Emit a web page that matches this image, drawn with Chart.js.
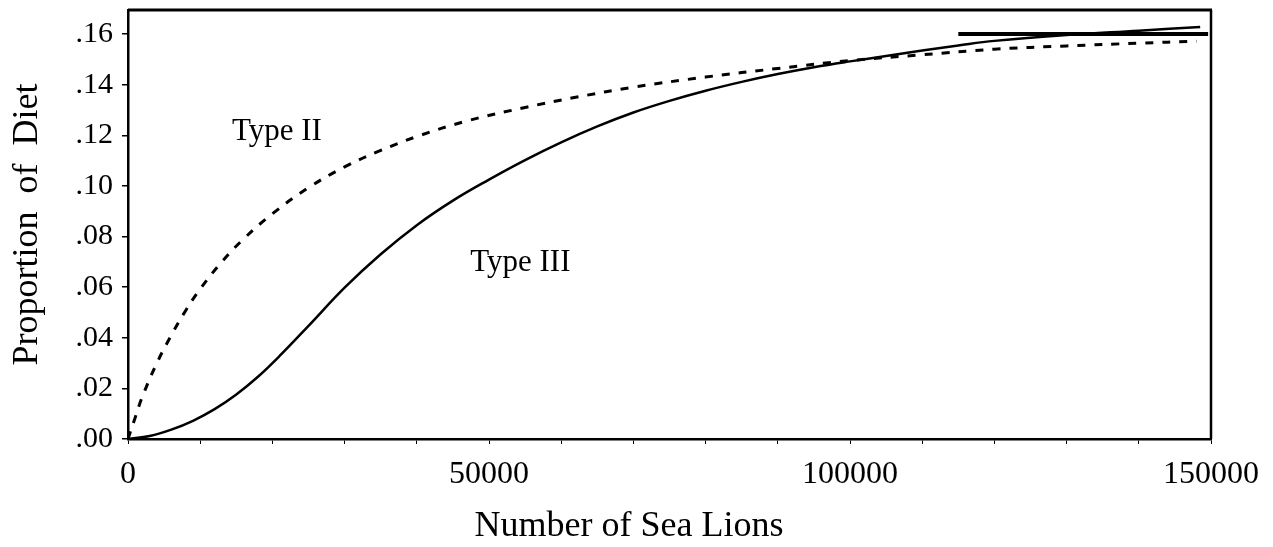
<!DOCTYPE html>
<html lang="en">
<head>
<meta charset="UTF-8" />
<title>Proportion of Diet vs Number of Sea Lions</title>
<script src="https://cdn.jsdelivr.net/npm/chart.js@4.4.0/dist/chart.umd.min.js"></script>
<style>
  body { margin: 0; background: #fff; }
</style>
</head>
<body>
<canvas id="dietChart" width="1273" height="547"></canvas>
<script>
// Type II (dashed) curve
const typeIIx = [0, 1000, 2000, 4000, 6000, 8000, 10000, 13000, 16000, 20000, 25000, 30000, 35000, 40000,
  47000, 55000, 62000, 70000, 80000, 90000, 100000, 110000, 120000, 130000, 140000, 148000];
const typeIIy = [0, .0085, .0168, .0300, .0410, .0508, .0593, .0700, .0790, .0890, .0993, .1075, .1140, .1195,
  .1257, .1310, .1350, .1390, .1430, .1464, .1495, .1518, .1540, .1553, .1564, .1572];

// Type III (solid) curve
const typeIIIx = [0, 3000, 6000, 9000, 12000, 15000, 18000, 21000, 25000, 30000, 35000, 40000, 45000, 50000,
  55000, 60000, 65000, 70000, 75000, 80000, 85000, 90000, 95000, 100000, 105000, 110000, 115000, 120000,
  130000, 140000, 148500];
const typeIIIy = [0, .0012, .0037, .0072, .0118, .0176, .0246, .0328, .0447, .0598, .0730, .0845, .0942, .1025,
  .1102, .1172, .1235, .1290, .1336, .1376, .1411, .1442, .1469, .1492, .1513, .1535, .1555, .1573,
  .1596, .1613, .1628];

// heavy asymptote segment at the top right
const plateauX = [115000, 149600];
const plateauY = [0.16, 0.16];

const xTickLabels = [0, 50000, 100000, 150000];
const yTickValues = [0, 0.02, 0.04, 0.06, 0.08, 0.10, 0.12, 0.14, 0.16];

const curveLabels = ['Type II', 'Type III'];
const curveLabelX = [14400, 47400];
const curveLabelY = [0.1213, 0.0697];

const serif = '"Liberation Serif", "Times New Roman", serif';

function pts(xs, ys) {
  return xs.map((x, i) => ({ x: x, y: ys[i] }));
}

const framePlugin = {
  id: 'frame',
  afterDraw(chart) {
    const { ctx, chartArea: a, scales } = chart;
    ctx.save();
    ctx.strokeStyle = '#000';
    ctx.lineWidth = 3;
    ctx.beginPath();
    ctx.moveTo(a.left, a.top);
    ctx.lineTo(a.right + 1, a.top);
    ctx.stroke();
    ctx.lineWidth = 2.5;
    ctx.beginPath();
    ctx.moveTo(a.right, a.top);
    ctx.lineTo(a.right, a.bottom);
    ctx.stroke();

    ctx.fillStyle = '#000';
    ctx.font = '31px ' + serif;
    ctx.textBaseline = 'middle';
    ctx.textAlign = 'left';
    curveLabels.forEach((t, i) => {
      ctx.fillText(t, scales.x.getPixelForValue(curveLabelX[i]), scales.y.getPixelForValue(curveLabelY[i]));
    });
    ctx.restore();
  }
};

new Chart(document.getElementById('dietChart'), {
  type: 'line',
  data: {
    datasets: [
      {
        label: 'Type II',
        data: pts(typeIIx, typeIIy),
        borderColor: '#000',
        borderWidth: 3,
        borderDash: [8, 9],
        pointRadius: 0,
        tension: 0.4,
        fill: false
      },
      {
        label: 'Type III',
        data: pts(typeIIIx, typeIIIy),
        borderColor: '#000',
        borderWidth: 2.5,
        pointRadius: 0,
        tension: 0.4,
        fill: false
      },
      {
        label: 'plateau',
        data: pts(plateauX, plateauY),
        borderColor: '#000',
        borderWidth: 4,
        pointRadius: 0,
        fill: false
      }
    ]
  },
  options: {
    responsive: false,
    animation: false,
    layout: { padding: { top: 10, right: 62, left: 0, bottom: 0 } },
    plugins: {
      legend: { display: false },
      tooltip: { enabled: false }
    },
    scales: {
      x: {
        type: 'linear',
        min: 0,
        max: 150000,
        afterFit(scale) { scale.height = 108; },
        ticks: {
          stepSize: 10000,
          autoSkip: false,
          maxRotation: 0,
          color: '#000',
          padding: 11,
          font: { family: serif, size: 32 },
          callback: (v) => xTickLabels.includes(v) ? String(v) : ''
        },
        grid: { drawOnChartArea: false, drawTicks: true, tickLength: 5, color: '#000', lineWidth: 1 },
        border: { color: '#000', width: 2.5 },
        title: {
          display: true,
          text: 'Number of Sea Lions         ',
          color: '#000',
          font: { family: serif, size: 36, lineHeight: 1 },
          padding: { top: 0, bottom: 2 }
        }
      },
      y: {
        min: 0,
        max: 0.1695,
        afterFit(scale) {
          scale.width = 128;
          scale.paddingTop = 0;
          scale.paddingBottom = 0;
        },
        afterBuildTicks(scale) {
          scale.ticks = yTickValues.map(v => ({ value: v }));
        },
        ticks: {
          color: '#000',
          padding: 9,
          font: { family: serif, size: 30 },
          callback: (v) => v.toFixed(2).replace('0.', '.')
        },
        grid: { drawOnChartArea: false, drawTicks: true, tickLength: 6, color: '#000', lineWidth: 1.5 },
        border: { color: '#000', width: 2.5 },
        title: {
          display: true,
          text: 'Proportion  of  Diet',
          color: '#000',
          font: { family: serif, size: 36, lineHeight: 1 },
          padding: { top: 10, bottom: 0 }
        }
      }
    }
  },
  plugins: [framePlugin]
});
</script>
</body>
</html>
